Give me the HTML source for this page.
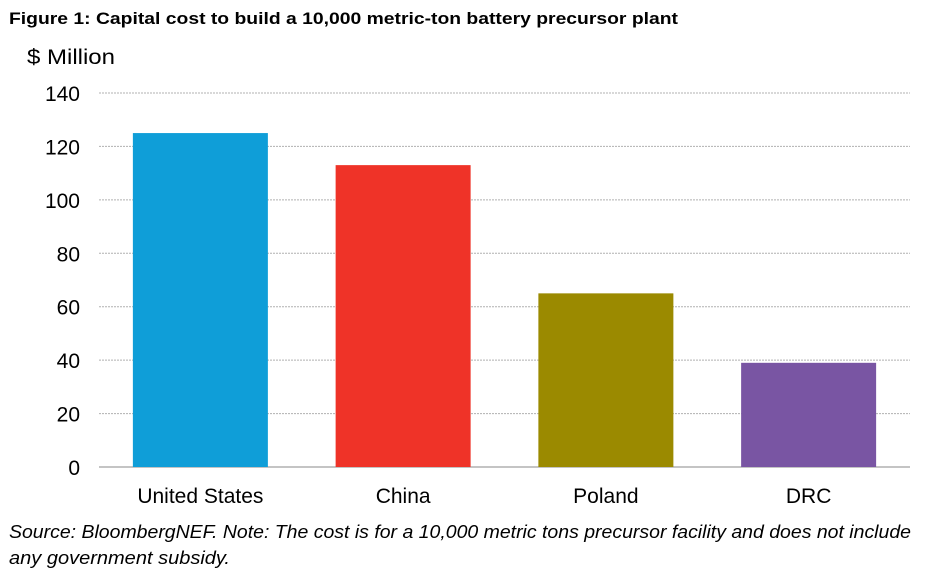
<!DOCTYPE html>
<html><head><meta charset="utf-8"><style>
body{margin:0;background:#fff;width:928px;height:576px;overflow:hidden;font-family:"Liberation Sans",sans-serif;}
</style></head><body>
<svg width="928" height="576">
<text x="9" y="24" font-size="17" font-weight="bold" textLength="669" lengthAdjust="spacingAndGlyphs">Figure 1: Capital cost to build a 10,000 metric-ton battery precursor plant</text>
<text x="27" y="64" font-size="21" textLength="88" lengthAdjust="spacingAndGlyphs">$ Million</text>
<g id="grid"></g><g id="bars"></g><g id="labels"></g>
<text x="9" y="538" font-size="18" font-style="italic" textLength="902" lengthAdjust="spacingAndGlyphs">Source: BloombergNEF. Note: The cost is for a 10,000 metric tons precursor facility and does not include</text>
<text x="9" y="564" font-size="18" font-style="italic" textLength="221" lengthAdjust="spacingAndGlyphs">any government subsidy.</text>
</svg>
<script>
const categories=["United States","China","Poland","DRC"];
const values=[125,113,65,39];
const ticks=[0,20,40,60,80,100,120,140];
const colors=["#0f9ed8","#ef3328","#9b8a00","#7955a3"];
const NS="http://www.w3.org/2000/svg";
const x0=99,x1=910,y0=467,y1=93,max=140;
const y=v=>y0-(v/max)*(y0-y1);
const cw=(x1-x0)/categories.length, bw=135;
const xc=i=>x0+cw*(i+0.5);
function mk(t,a,p){const e=document.createElementNS(NS,t);for(const k in a)e.setAttribute(k,a[k]);p.appendChild(e);return e;}
const g=document.getElementById('grid'),b=document.getElementById('bars'),l=document.getElementById('labels');
ticks.forEach(t=>{
 if(t>0){const ln=mk('line',{x1:x0,x2:x1,y1:y(t),y2:y(t),stroke:'#b0b0b0','stroke-dasharray':'2,1','stroke-width':1},g);
 
 }
 const tx=mk('text',{x:80,y:y(t)+8,'font-size':21,'text-anchor':'end'},l);tx.textContent=t;
 
 
});
const ax=mk('line',{x1:x0,x2:x1,y1:y0,y2:y0,stroke:'#888','stroke-width':1},g);


categories.forEach((c,i)=>{
 const r=mk('rect',{x:xc(i)-bw/2,y:y(values[i]),width:bw,height:y0-y(values[i]),fill:colors[i]},b);
 
 
 const tx=mk('text',{x:xc(i),y:503,'font-size':21,'text-anchor':'middle'},l);tx.textContent=c;
 
 
});
</script>
</body></html>
